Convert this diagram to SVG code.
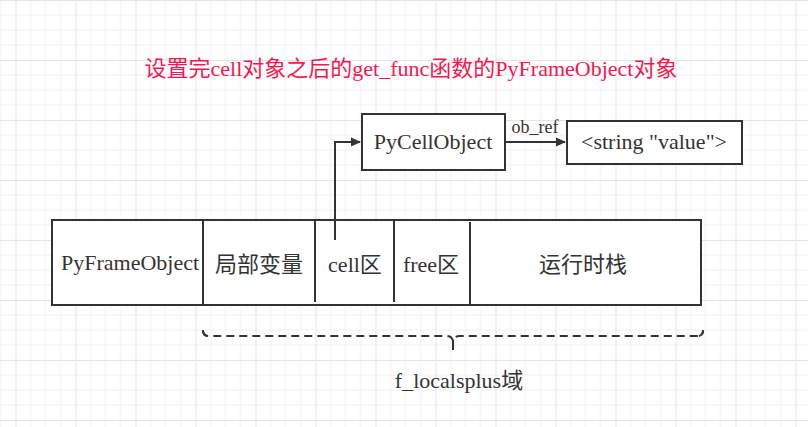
<svg xmlns="http://www.w3.org/2000/svg" width="808" height="427" viewBox="0 0 808 427">
<defs>
<pattern id="grid" x="15.5" y="0" width="60" height="60" patternUnits="userSpaceOnUse">
<path d="M15,0V60M30,0V60M45,0V60M0,15H60M0,30H60M0,45H60" stroke="#f0f0f0" stroke-width="1" fill="none"/>
<path d="M0.5,0V60M0,0.5H60" stroke="#e4e4e4" stroke-width="1" fill="none"/>
</pattern>
<marker id="arr" markerWidth="10" markerHeight="10" refX="9" refY="5" orient="auto" markerUnits="userSpaceOnUse">
<path d="M0,0.5 L10,5 L0,9.5 Z" fill="#333333"/>
</marker>
<style>
.box{fill:#ffffff;stroke:#333333;stroke-width:2}
.ln{fill:none;stroke:#333333;stroke-width:2}
.t{font-family:"Liberation Serif","Noto Sans CJK SC",serif;font-size:22px;fill:#333333;text-anchor:middle}
.c{font-family:"Noto Sans CJK SC",sans-serif}
.s{font-family:"Liberation Serif",serif}
</style>
</defs>
<rect width="808" height="427" fill="#ffffff"/>
<rect width="808" height="427" fill="url(#grid)"/>
<text id="title" x="411" y="76" class="t" style="fill:#f5174f"><tspan class="c">设置完</tspan><tspan class="s">cell</tspan><tspan class="c">对象之后的</tspan><tspan class="s">get_func</tspan><tspan class="c">函数的</tspan><tspan class="s">PyFrameObject</tspan><tspan class="c">对象</tspan></text>
<g id="frame">
<rect class="box" x="52" y="220" width="649" height="85"/>
<line class="ln" x1="203" y1="220" x2="203" y2="305"/>
<line class="ln" x1="315" y1="220" x2="315" y2="302"/>
<line class="ln" x1="394" y1="220" x2="394" y2="302"/>
<line class="ln" x1="470" y1="222" x2="470" y2="305"/>
<text class="t" x="130" y="270">PyFrameObject</text>
<text class="t" x="259" y="272">局部变量</text>
<text class="t" x="355" y="272">cell区</text>
<text class="t" x="431" y="272">free区</text>
<text class="t" x="583" y="272">运行时栈</text>
</g>
<g id="pycell">
<rect class="box" x="362" y="114" width="143" height="56"/>
<text class="t" x="433" y="149">PyCellObject</text>
</g>
<g id="string">
<rect class="box" x="567" y="121" width="175" height="43"/>
<text class="t" x="654" y="149">&lt;string "value"&gt;</text>
</g>
<g id="brace">
<path d="M203,331 Q203,336 209,336 L446,336 Q452,336 453,341 Q454,336 460,336 L697,336 Q703,336 703,331" fill="none" stroke="#333333" stroke-width="2" stroke-dasharray="8 5"/>
<path d="M203,330 Q203,335 207,336 M703,330 Q703,335 699,336" fill="none" stroke="#333333" stroke-width="2"/>
<line x1="453" y1="340" x2="453" y2="350" stroke="#333333" stroke-width="2"/>
<text class="t" x="459" y="388">f_localsplus域</text>
</g>
<g id="connectors">
<path class="ln" d="M335,240 V142 H360" marker-end="url(#arr)"/>
<path class="ln" d="M505,142 H565" marker-end="url(#arr)"/>
<text x="535" y="133" style="font-family:'Liberation Serif',serif;font-size:18px;fill:#333333;text-anchor:middle">ob_ref</text>
</g>
</svg>
